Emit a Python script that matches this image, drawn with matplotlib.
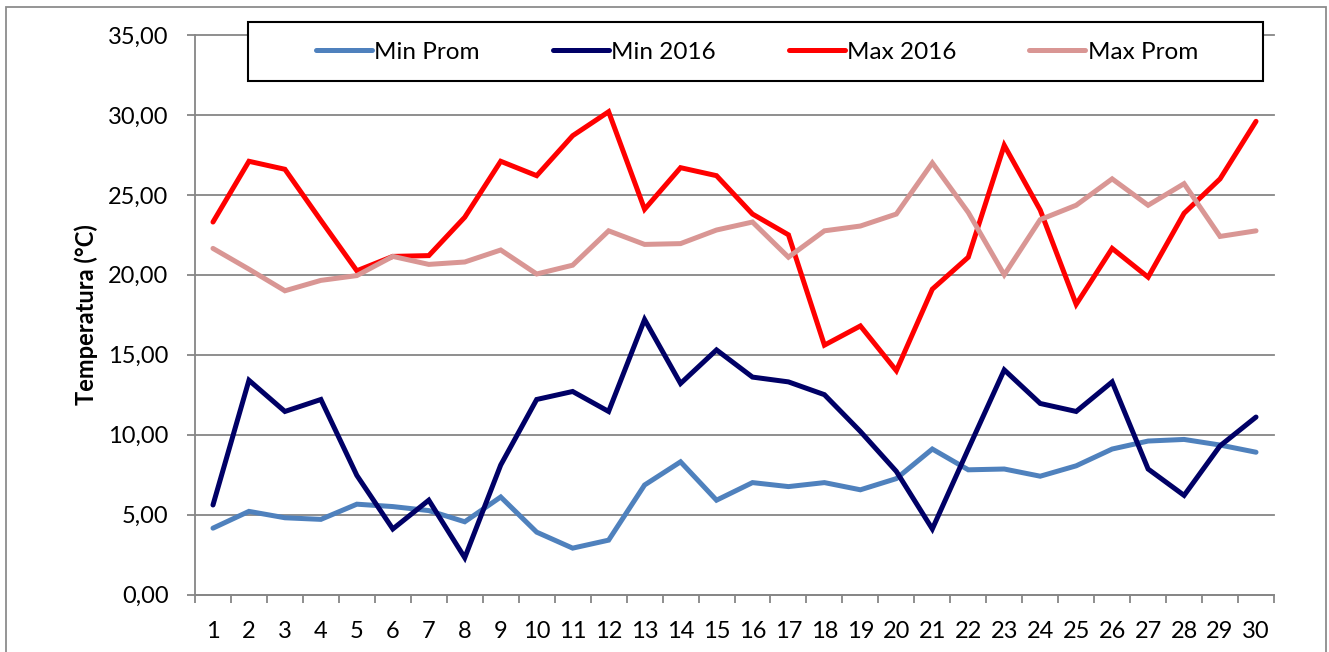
import numpy as np
import matplotlib
matplotlib.use("Agg")
import matplotlib.pyplot as plt
from matplotlib.patches import Rectangle
from matplotlib.ticker import FuncFormatter, MultipleLocator

plt.rcParams['font.family'] = ['Lato', 'DejaVu Sans']

days = list(range(1, 31))
min_prom = [4.15, 5.2, 4.8, 4.7, 5.65, 5.5, 5.25, 4.55, 6.1, 3.9,
            2.9, 3.4, 6.85, 8.3, 5.9, 7.0, 6.75, 7.0, 6.55, 7.25,
            9.1, 7.8, 7.85, 7.4, 8.05, 9.1, 9.6, 9.7, 9.35, 8.9]
min_2016 = [5.6, 13.4, 11.45, 12.2, 7.45, 4.1, 5.9, 2.3, 8.1, 12.2,
            12.7, 11.45, 17.2, 13.2, 15.3, 13.6, 13.3, 12.5, 10.2, 7.7,
            4.1, 9.1, 14.05, 11.95, 11.45, 13.3, 7.85, 6.2, 9.3, 11.1]
max_2016 = [23.3, 27.1, 26.6, 23.4, 20.25, 21.15, 21.2, 23.6, 27.1, 26.2,
            28.7, 30.2, 24.1, 26.7, 26.2, 23.8, 22.5, 15.6, 16.8, 14.0,
            19.1, 21.1, 28.1, 24.05, 18.15, 21.65, 19.85, 23.85, 26.0, 29.6]
max_prom = [21.65, 20.35, 19.0, 19.65, 19.95, 21.15, 20.65, 20.8, 21.55, 20.05,
            20.6, 22.75, 21.9, 21.95, 22.8, 23.3, 21.1, 22.75, 23.05, 23.8,
            27.0, 23.9, 20.0, 23.45, 24.35, 26.0, 24.35, 25.7, 22.4, 22.75]

series = [("Min Prom", min_prom, "#4F81BD"),
          ("Min 2016", min_2016, "#000066"),
          ("Max 2016", max_2016, "#FF0000"),
          ("Max Prom", max_prom, "#D99694")]

W, H = 1329, 652
fig = plt.figure(figsize=(W / 100, H / 100), dpi=100)
ax = fig.add_axes([195 / W, (H - 594.5) / H, (1274 - 195) / W, (594.5 - 35) / H])

handles = []
for name, vals, col in series:
    h, = ax.plot(days, vals, color=col, lw=3.6, label=name,
                 solid_joinstyle='miter', solid_capstyle='round', zorder=3)
    handles.append(h)

gray = "#868686"
ax.set_xlim(0.5, 30.5)
ax.set_ylim(0, 35)
ax.yaxis.set_major_locator(MultipleLocator(5))
ax.yaxis.set_major_formatter(FuncFormatter(lambda v, p: f"{v:.2f}".replace(".", ",")))
ax.set_xticks(days)
ax.set_xticks(np.arange(0.5, 31, 1), minor=True)
ax.tick_params(axis='x', which='major', length=0, pad=19, labelsize=17)
ax.tick_params(axis='x', which='minor', length=6, width=1.3, color=gray, direction='out')
ax.tick_params(axis='y', length=6, width=1.3, color=gray, pad=13, labelsize=17)
ax.grid(axis='y', color=gray, lw=1.3, clip_on=False)
ax.set_axisbelow(True)
for s in ('top', 'right'):
    ax.spines[s].set_visible(False)
for s in ('left', 'bottom'):
    ax.spines[s].set_color(gray)
    ax.spines[s].set_linewidth(1.3)

fig.text(86 / W, 1 - 315 / H, "Temperatura (°C)", rotation=90, ha='center', va='center',
         fontsize=17, fontweight='bold')

# legend box
fig.patches.append(Rectangle((248 / W, 1 - 81 / H), (1263 - 248) / W, 59 / H,
                             transform=fig.transFigure, facecolor='white',
                             edgecolor='black', lw=1.5, zorder=5))
leg = fig.legend(handles=handles, loc='center', bbox_to_anchor=(757 / W, 1 - 52 / H),
                 ncol=4, frameon=False, fontsize=17.5, handlelength=2.3,
                 handletextpad=0.1, columnspacing=3.0)
leg.set_zorder(6)

# outer chart border
fig.patches.append(Rectangle((6 / W, -0.05), (1326 - 6) / W, 1.05 - 7 / H,
                             transform=fig.transFigure, fill=False,
                             edgecolor="#8C8C8C", lw=1.3, zorder=0))

fig.savefig("out.png", dpi=100)
